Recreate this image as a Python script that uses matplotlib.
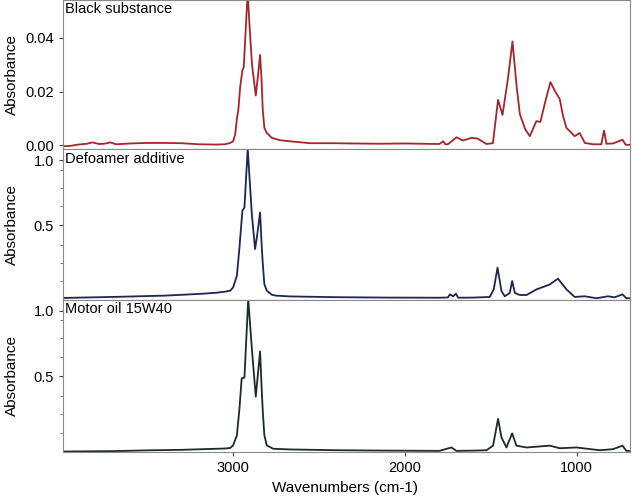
import matplotlib
matplotlib.use("Agg")
import matplotlib.pyplot as plt
from matplotlib.ticker import FixedLocator

plt.rcParams['font.family'] = ['Liberation Sans', 'DejaVu Sans']

# --- spectra (wavenumber cm-1, absorbance) ---
wn_black = [4000, 3950, 3900, 3850, 3820, 3780, 3750, 3715, 3680, 3600, 3500, 3400,
            3300, 3200, 3100, 3050, 3020, 3000, 2988, 2978, 2969, 2959, 2946, 2938,
            2925, 2915, 2905, 2890, 2868, 2855, 2843, 2835, 2827, 2818, 2804, 2775,
            2727, 2669, 2550, 2419, 2300, 2150, 2000, 1900, 1800, 1777, 1765, 1750,
            1699, 1663, 1612, 1576, 1525, 1488, 1458, 1432, 1400, 1374, 1350, 1331,
            1300, 1273, 1235, 1212, 1180, 1153, 1125, 1099, 1080, 1060, 1012, 983,
            953, 905, 857, 841, 827, 789, 734, 715, 682]
abs_black = [-0.0004, -0.0002, 0.0003, 0.0006, 0.0011, 0.0005, 0.0006, 0.0011, 0.0004,
             0.0007, 0.0009, 0.0009, 0.0008, 0.0004, 0.0003, 0.0004, 0.0008, 0.0015,
             0.004, 0.0098, 0.0135, 0.0216, 0.0279, 0.029, 0.045, 0.057, 0.045, 0.030,
             0.0185, 0.026, 0.0336, 0.025, 0.0128, 0.0065, 0.0046, 0.0028, 0.0019,
             0.0015, 0.0008, 0.0008, 0.0007, 0.0006, 0.0007, 0.0006, 0.0005, 0.0015,
             0.0004, 0.0004, 0.003, 0.0018, 0.0028, 0.0025, 0.0005, 0.0008, 0.0169,
             0.0113, 0.025, 0.0386, 0.022, 0.0116, 0.006, 0.0034, 0.009, 0.0087,
             0.017, 0.0235, 0.020, 0.0172, 0.011, 0.0065, 0.0034, 0.0046, 0.0009,
             0.0004, 0.0004, 0.0055, 0.0006, 0.0007, 0.0021, 0.0002, 0.0002]

wn_defoam = [4000, 3700, 3400, 3200, 3100, 3050, 3017, 3000, 2978, 2963, 2946, 2934,
             2915, 2891, 2872, 2859, 2843, 2833, 2827, 2818, 2804, 2775, 2750, 2669,
             2400, 2100, 1800, 1750, 1738, 1719, 1703, 1690, 1600, 1506, 1483, 1461,
             1438, 1419, 1390, 1376, 1360, 1331, 1292, 1234, 1157, 1109, 1060, 1012,
             953, 885, 818, 779, 734, 711, 682]
abs_defoam = [-0.058, -0.05, -0.04, -0.027, -0.018, -0.01, -0.002, 0.023, 0.113, 0.33,
              0.613, 0.638, 1.09, 0.587, 0.318, 0.433, 0.60, 0.33, 0.20, 0.048,
              -0.002, -0.033, -0.04, -0.046, -0.052, -0.055, -0.056, -0.054, -0.03,
              -0.045, -0.025, -0.056, -0.055, -0.05, 0.008, 0.175, -0.005, -0.045,
              -0.02, 0.072, -0.02, -0.035, -0.035, 0.008, 0.046, 0.09, 0.008, -0.05,
              -0.045, -0.06, -0.045, -0.053, -0.03, -0.06, -0.06]

wn_oil = [4000, 3700, 3500, 3300, 3150, 3050, 3017, 3000, 2978, 2963, 2950, 2934,
          2912, 2891, 2868, 2856, 2843, 2833, 2827, 2818, 2804, 2766, 2669, 2400,
          2100, 1800, 1729, 1700, 1600, 1525, 1487, 1458, 1438, 1409, 1376, 1351,
          1292, 1157, 1099, 1002, 866, 789, 734, 711, 682]
abs_oil = [-0.075, -0.072, -0.066, -0.062, -0.056, -0.052, -0.048, -0.028, 0.048, 0.254,
           0.485, 0.49, 1.09, 0.715, 0.344, 0.51, 0.69, 0.382, 0.228, 0.048, -0.028,
           -0.054, -0.059, -0.065, -0.068, -0.07, -0.044, -0.07, -0.068, -0.065,
           -0.03, 0.175, 0.033, -0.044, 0.064, -0.03, -0.044, -0.03, -0.05, -0.044,
           -0.065, -0.057, -0.03, -0.07, -0.07]

names = ['Black substance', 'Defoamer additive', 'Motor oil 15W40']
colors = ['#a3262a', '#1d2550', '#1e2a26']

fig = plt.figure(figsize=(6.32, 4.98), dpi=100)
left, width = 63 / 632, 567 / 632
rects = [(left, 0.700, width, 0.300), (left, 0.398, width, 0.302), (left, 0.092, width, 0.306)]
series = [(wn_black, abs_black), (wn_defoam, abs_defoam), (wn_oil, abs_oil)]
ylims = [(-0.0015, 0.054), (-0.072, 1.085), (-0.08, 1.085)]

for i, (rect, (x, y)) in enumerate(zip(rects, series)):
    ax = fig.add_axes(rect)
    ax.plot(x, y, color=colors[i], lw=1.3)
    ax.set_xlim(3990, 690)
    ax.set_ylim(*ylims[i])
    for s in ax.spines.values():
        s.set_color('#8a8a8a')
    ax.tick_params(colors='#444444', labelcolor='black', labelsize=10.5, length=3)
    ax.set_xticks([3000, 2000, 1000])
    if i == 0:
        ax.set_yticks([0.0, 0.02, 0.04])
        ax.set_yticklabels(['0.00', '0.02', '0.04'])
    else:
        ax.set_yticks([0.5, 1.0])
        ax.set_yticklabels(['0.5', '1.0'])
        ax.yaxis.set_minor_locator(FixedLocator([0.07, 0.21, 0.35, 0.65, 0.79, 0.93]))
        ax.tick_params(which='minor', length=2, color='#666666')
    if i < 2:
        ax.tick_params(axis='x', labelbottom=False)
    ax.set_ylabel('Absorbance', fontsize=11)
    ax.yaxis.set_label_coords(-0.078, 0.5)
    ax.text(0.003, 0.985, names[i], transform=ax.transAxes, ha='left', va='top', fontsize=10.5)

fig.text(345 / 632, 1 - 488 / 498, 'Wavenumbers (cm-1)', ha='center', va='center', fontsize=11)

fig.savefig('out.png', dpi=100)
